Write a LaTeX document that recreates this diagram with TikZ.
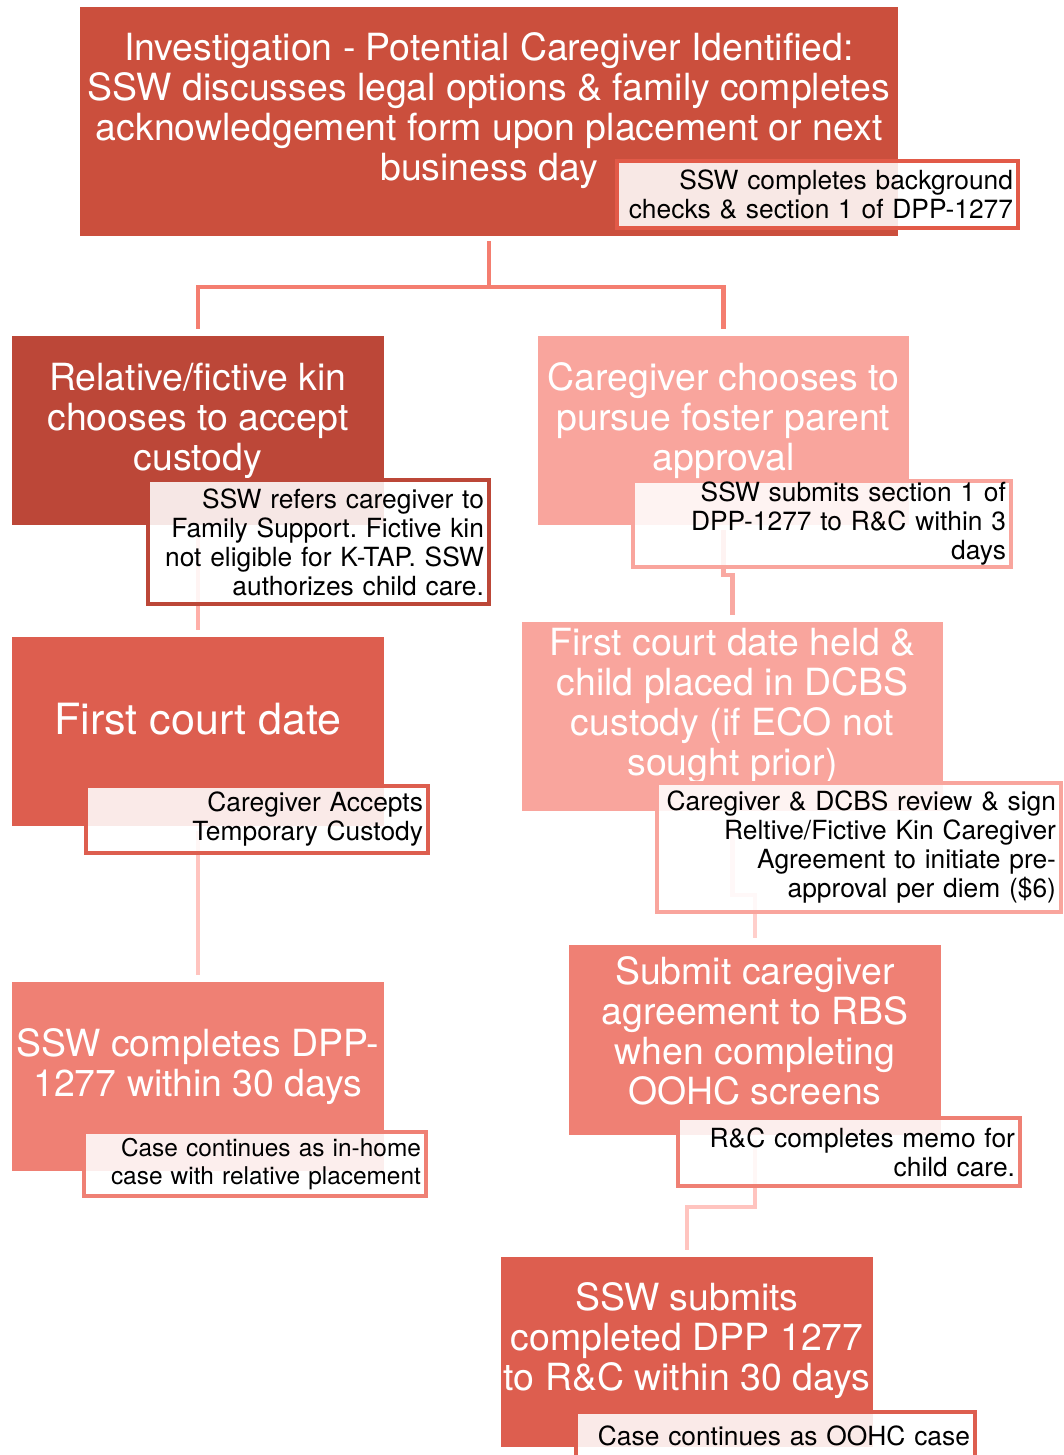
\documentclass[tikz,border=0pt]{standalone}
\usepackage{fontspec}
\setmainfont{TeX Gyre Heros}
\frenchspacing
\definecolor{cInv}{HTML}{CB4F3D}
\definecolor{cInvNote}{HTML}{E25A48}
\definecolor{cKin}{HTML}{BC4738}
\definecolor{cFoster}{HTML}{F9A59D}
\definecolor{cCourt}{HTML}{DD5E4F}
\definecolor{cDpp}{HTML}{EF8074}
\definecolor{cLinkA}{HTML}{F47E70}
\definecolor{cLinkB}{HTML}{FFAFA8}
\definecolor{cLinkC}{HTML}{F9A9A2}
\definecolor{cLinkD}{HTML}{FFC4BF}
\definecolor{cLinkE}{HTML}{FFCFCB}

\begin{document}
\begin{tikzpicture}[x=0.02cm, y=-0.02cm,
	block/.style = {rectangle, inner sep=0pt, minimum width=7.44cm, minimum height=3.78cm},
	btext/.style = {text=white, align=center, font=\fontsize{21.3}{22.8}\selectfont},
	note/.style = {draw=#1, line width=2.3pt, fill=white, fill opacity=0.87, text opacity=1, align=right, inner xsep=0.1cm, inner ysep=0pt, font=\fontsize{15}{16.5}\selectfont},
	link/.style = {line width=2.3pt, draw=#1, shorten <=0.1cm, shorten >=0.13cm}]
				\useasboundingbox (0,0) rectangle (1063,1455);
				\node[block, fill=cInv, minimum width=16.36cm, minimum height=4.58cm] (inv) at (489,121.5) {};
				\node[btext] (inv-t) at (489,111) {Investigation - Potential Caregiver Identified:\\SSW discusses legal options \& family completes\\acknowledgement form upon placement or next\\business day};
				\node[block, fill=cKin] (kin) at (198,430.5) {};
				\node[btext] (kin-t) at (198,421) {Relative/fictive kin\\chooses to accept\\custody};
				\node[block, fill=cFoster] (foster) at (723.5,430.5) {};
				\node[btext] (foster-t) at (723.5,421) {Caregiver chooses to\\pursue foster parent\\approval};
				\node[block, fill=cCourt] (court) at (198,731.5) {};
				\node[btext, font=\fontsize{24.5}{26}\selectfont] (court-t) at (198,719) {First court date};
				\node[block, fill=cFoster, minimum width=8.42cm] (held) at (732.5,716.5) {};
				\node[btext] (held-t) at (732.5,706) {First court date held \&\\child placed in DCBS\\custody (if ECO not\\sought prior)};
				\node[block, fill=cDpp] (dpp) at (198,1076.5) {};
				\node[btext] (dpp-t) at (198,1067) {SSW completes DPP-\\1277 within 30 days};
				\node[block, fill=cDpp, minimum height=3.8cm] (rbs) at (755,1040) {};
				\node[btext] (rbs-t) at (755,1031) {Submit caregiver\\agreement to RBS\\when completing\\OOHC screens};
				\node[block, fill=cCourt, minimum height=3.8cm] (oohc) at (687,1352) {};
				\node[btext] (oohc-t) at (687,1341) {SSW submits\\completed DPP 1277\\to R\&C within 30 days};
				\draw[link=cLinkA] (inv.south) -- ++(0,51) -| (kin.north);
				\draw[link=cLinkA] (inv.south) -- ++(0,51) -| (foster.north);
				\draw[link=cLinkB] (kin.south) -- (court.north);
				\draw[link=cLinkC] (foster.south) -- ++(0,50) -| (held.north);
				\draw[link=cLinkD] (court.south) -- (dpp.north);
				\draw[link=cLinkE] (held.south) -- ++(0,84) -| (rbs.north);
				\draw[link=cLinkD] (rbs.south) -- ++(0,72) -| (oohc.north);
				\node[note=cInvNote, text width=7.82cm, minimum height=1.34cm] (inv-n) at (817.5,194.5) {SSW completes background\\checks \& section 1 of DPP-1277};
				\node[note=cKin, text width=6.62cm, minimum height=2.48cm] (kin-n) at (318.5,542) {SSW refers caregiver to\\Family Support. Fictive kin\\not eligible for K-TAP. SSW\\authorizes child care.};
				\node[note=cFoster, text width=7.36cm, minimum height=1.72cm] (foster-n) at (822,524) {SSW submits section 1 of\\DPP-1277 to R\&C within 3\\days};
				\node[note=cCourt, text width=6.64cm, minimum height=1.34cm] (court-n) at (257,819.5) {Caregiver Accepts\\Temporary Custody};
				\node[note=cFoster, text width=7.88cm, minimum height=2.58cm] (held-n) at (859,847.5) {Caregiver \& DCBS review \& sign\\Reltive/Fictive Kin Caregiver\\Agreement to initiate pre-\\approval per diem (\$6)};
				\node[note=cDpp, text width=6.64cm, minimum height=1.28cm, font=\fontsize{13.9}{15.4}\selectfont] (dpp-n) at (255,1164) {Case continues as in-home\\case with relative placement};
				\node[note=cDpp, text width=6.64cm, minimum height=1.36cm] (rbs-n) at (849,1152) {R\&C completes memo for\\child care.};
				\node[note=cCourt, text width=7.78cm, minimum height=0.96cm] (oohc-n) at (775.5,1436) {Case continues as OOHC case};
			\end{tikzpicture}
\end{document}
